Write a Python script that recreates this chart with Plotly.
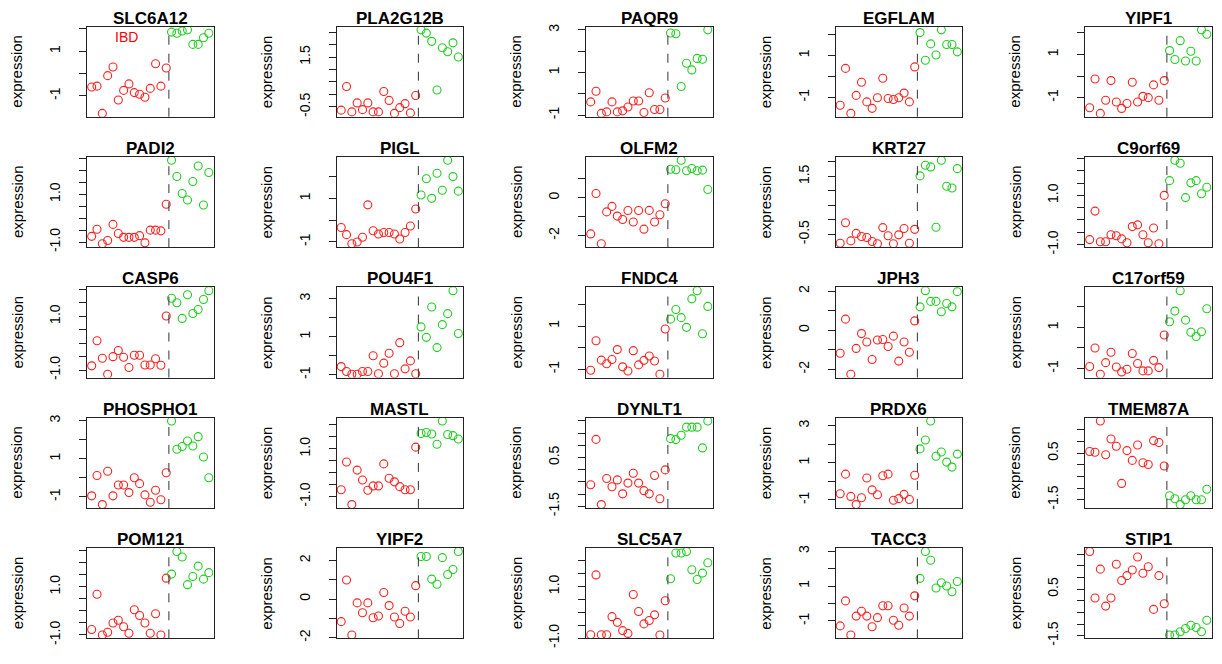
import plotly.graph_objects as go

W, H = 1222, 664

GENES = ["SLC6A12", "PLA2G12B", "PAQR9", "EGFLAM", "YIPF1",
         "PADI2", "PIGL", "OLFM2", "KRT27", "C9orf69",
         "CASP6", "POU4F1", "FNDC4", "JPH3", "C17orf59",
         "PHOSPHO1", "MASTL", "DYNLT1", "PRDX6", "TMEM87A",
         "POM121", "YIPF2", "SLC5A7", "TACC3", "STIP1"]

IBD_VALUES = [
    [-0.61, -0.57, -1.79, -0.10, 0.29, -1.19, -0.76, -0.47, -0.86, -0.93, -1.07, -0.67, 0.43, -0.57, 0.24],
    [-0.63, 0.32, -0.70, -0.34, -0.61, -0.34, -0.70, -0.70, 0.12, -0.24, -0.76, -0.53, -0.37, -0.74, -0.04],
    [-0.38, 0.12, -0.92, -0.85, -0.38, -0.85, -0.80, -0.62, -0.34, -0.34, -0.88, 0.05, -0.74, -0.74, -0.20],
    [-1.38, 0.38, -1.77, -0.91, -0.28, -1.22, -1.53, -1.02, -0.09, -1.06, -1.11, -1.02, -0.80, -1.22, 0.45],
    [-1.47, -0.14, -1.73, -1.12, -0.21, -1.20, -1.50, -1.27, -0.29, -1.20, -0.94, -1.00, -0.41, -1.12, -0.21],
    [-0.76, -0.46, -1.07, -0.93, -0.26, -0.64, -0.80, -0.80, -0.80, -0.73, -1.03, -0.50, -0.50, -0.53, 0.58],
    [-0.34, -0.67, -1.09, -1.01, -0.79, 0.70, -0.49, -0.64, -0.57, -0.57, -0.64, -0.87, -0.57, -0.27, 0.51],
    [-1.91, 0.22, -2.43, -0.75, -0.46, -0.97, -1.15, -0.68, -1.28, -0.68, -1.66, -0.67, -1.28, -0.90, -0.32],
    [-0.81, -0.10, -0.73, -0.47, -0.58, -0.61, -0.75, -0.83, -0.27, -0.55, -0.83, -0.52, -0.30, -0.81, -0.33],
    [-0.80, 0.36, -0.89, -0.89, -0.60, -0.64, -0.77, -0.93, -0.27, -0.20, -0.60, -0.93, -0.33, -0.97, 1.00],
    [-0.84, 0.09, -0.56, -1.15, -0.50, -0.27, -0.52, -0.90, -0.45, -0.45, -0.81, -0.81, -0.58, -0.82, 1.01],
    [-0.57, -0.83, -0.97, -0.97, -0.83, -0.83, 0.00, -0.95, -0.39, 0.13, -0.95, 0.69, -0.69, -0.27, -0.95],
    [-1.05, 0.32, -0.58, -0.75, -0.55, -0.09, -0.89, -1.08, -0.14, -0.80, -0.59, -0.39, -0.62, -1.23, 0.86],
    [-1.18, 0.57, -2.25, -0.93, -0.17, -0.60, -1.50, -0.50, -0.47, -0.83, -0.30, -1.58, -0.60, -1.13, 0.48],
    [-0.90, 0.00, -1.27, -0.71, -0.21, -0.92, -1.16, -1.03, -0.27, -0.75, -1.11, -1.11, -0.60, -0.95, 0.63],
    [-0.95, 0.12, -1.41, 0.34, -0.95, -0.38, -0.38, -0.78, 0.00, -0.31, -0.90, -1.29, -0.66, -1.16, 0.26],
    [-0.71, 0.45, -1.33, 0.11, -0.30, -0.73, -0.55, -0.55, 0.37, -0.23, -0.38, -0.58, -0.71, -0.71, 1.07],
    [-0.62, 1.24, -1.43, -0.36, -0.70, -0.42, -0.99, -0.55, -0.15, -0.55, -0.86, -0.99, -0.24, -1.19, -0.01],
    [-0.67, 0.39, -0.81, -1.25, -0.88, 0.18, -0.46, -0.72, 0.30, 0.39, -1.02, -0.93, -0.70, -0.98, 0.33],
    [0.57, 0.54, 1.88, 0.43, 1.11, 0.80, -0.80, 0.61, 0.19, 0.85, 0.09, 0.01, 1.04, 0.96, -0.05],
    [-0.77, 0.69, -1.00, -0.89, -0.50, -0.39, -0.66, -0.93, 0.05, -0.19, -0.50, -0.93, -0.12, -1.00, 1.36],
    [-1.17, 0.98, -1.86, -0.20, -0.71, -0.20, -0.97, -0.88, 0.34, -0.34, -0.93, -1.27, -0.63, -0.93, 0.69],
    [-0.87, 1.45, -0.87, -0.87, -0.17, -0.39, -0.71, -0.82, 0.69, 0.03, -0.45, -0.32, -0.10, -0.88, 0.45],
    [-1.28, 0.15, -1.80, -0.72, -0.44, -0.72, -1.33, -0.81, -0.13, -0.13, -0.96, -1.24, -0.26, -0.72, 0.44],
    [2.12, 0.12, 1.36, -0.23, 0.12, 1.57, 0.87, 1.08, 1.32, 1.88, 1.18, 1.46, -0.37, 1.08, -0.13],
]

CONTROL_VALUES = [
    [1.85, 1.80, 1.90, 1.95, 1.30, 1.30, 1.60, 1.80],
    [2.59, 2.46, 2.13, 0.18, 1.87, 1.71, 2.07, 1.50],
    [2.85, 2.82, 0.34, 1.43, 1.12, 1.66, 1.62, 3.00],
    [2.09, 0.77, 1.55, 1.02, 2.22, 1.52, 1.52, 1.17],
    [1.18, 0.77, 1.64, 0.70, 1.15, 0.70, 2.14, 1.94],
    [2.42, 1.74, 1.03, 0.76, 1.53, 2.18, 0.55, 1.91],
    [1.15, 1.90, 1.00, 2.15, 1.37, 2.75, 2.00, 1.33],
    [1.50, 1.47, 1.97, 1.42, 1.54, 1.42, 1.45, 0.43],
    [1.52, 1.89, 1.83, -0.26, 2.06, 1.16, 1.10, 1.77],
    [1.60, 2.43, 2.31, 0.91, 1.51, 1.60, 1.07, 1.33],
    [1.67, 1.50, 0.92, 1.80, 1.10, 1.25, 1.62, 1.95],
    [1.52, 0.97, 2.57, 0.43, 1.64, 2.22, 3.43, 1.17],
    [1.32, 1.77, 1.39, 0.94, 2.26, 2.64, 0.64, 1.91],
    [1.20, 2.03, 1.48, 1.48, 0.95, 1.37, 1.20, 1.98],
    [1.27, 1.79, 2.78, 1.35, 0.76, 0.56, 0.79, 1.90],
    [2.98, 1.50, 1.64, 1.93, 1.67, 2.16, 1.09, 0.00],
    [1.64, 1.68, 1.62, 1.19, 2.16, 1.60, 1.55, 1.41],
    [1.27, 1.23, 1.41, 1.74, 1.74, 1.74, 0.89, 1.99],
    [1.75, 2.23, 3.25, 1.35, 1.58, 1.04, 0.77, 1.47],
    [-1.33, -1.46, -1.71, -1.50, -1.33, -1.50, -1.50, -1.05],
    [1.53, 2.47, 2.24, 1.09, 1.43, 1.86, 1.32, 1.59],
    [2.20, 2.20, 1.03, 0.76, 2.14, 1.27, 1.53, 2.46],
    [1.30, 2.30, 2.30, 2.36, 1.65, 1.27, 1.52, 1.92],
    [1.44, 2.98, 2.48, 0.89, 1.19, 1.00, 0.67, 1.26],
    [-1.47, -1.47, -1.33, -1.19, -1.05, -1.15, -1.33, -0.84],
]

T1 = [-1, 0, 1, 2]
T1L = ["-1", "", "1", ""]
T3 = [-1, 0, 1, 2, 3]
T3L = ["-1", "", "1", "", "3"]
TICK_VALUES = [
    T1, [-0.5, 0, 0.5, 1, 1.5, 2, 2.5], T3, T1, T1,
    [-1, -0.5, 0, 0.5, 1, 1.5, 2, 2.5], T1, [-2, -1, 0, 1], [-0.5, 0, 0.5, 1, 1.5, 2], [-1, -0.5, 0, 0.5, 1, 1.5, 2, 2.5],
    [-1, -0.5, 0, 0.5, 1, 1.5, 2], T3, T1, [-2, -1, 0, 1, 2], T1,
    T3, [-1, -0.5, 0, 0.5, 1, 1.5, 2], [-1.5, -1, -0.5, 0, 0.5, 1, 1.5, 2], T3, [-1.5, -1, -0.5, 0, 0.5, 1, 1.5],
    [-1, -0.5, 0, 0.5, 1, 1.5, 2, 2.5], [-2, -1, 0, 1, 2], [-1, -0.5, 0, 0.5, 1, 1.5, 2], T3, [-1.5, -1, -0.5, 0, 0.5, 1, 1.5, 2],
]
TICK_TEXT = [
    T1L, ["-0.5", "", "", "", "1.5", "", ""], T3L, T1L, T1L,
    ["-1.0", "", "", "", "1.0", "", "", ""], T1L, ["-2", "", "0", ""], ["-0.5", "", "", "", "1.5", ""], ["-1.0", "", "", "", "1.0", "", "", ""],
    ["-1.0", "", "", "", "1.0", "", ""], T3L, T1L, ["-2", "", "0", "", "2"], T1L,
    T3L, ["-1.0", "", "", "", "1.0", "", ""], ["-1.5", "", "", "", "0.5", "", "", ""], T3L, ["-1.5", "", "", "", "0.5", "", ""],
    ["-1.0", "", "", "", "1.0", "", "", ""], ["-2", "", "0", "", "2"], ["-1.0", "", "", "", "1.0", "", ""], T3L, ["-1.5", "", "", "", "0.5", "", "", ""],
]

RED = "#FF2020"
GREEN = "#22CC22"
FONT = "Liberation Sans, Arial, Helvetica, sans-serif"

COL_LEFT = [87, 336.5, 586, 835.5, 1085]
BOX_W = 126.5
ROW_TOP = [24, 157, 290, 423, 556]
BOX_H = 92

fig = go.Figure()
layout = dict(width=W, height=H, margin=dict(l=0, r=0, t=0, b=0),
              paper_bgcolor="white", plot_bgcolor="white", showlegend=False,
              font=dict(family=FONT, color="black"))
annotations = []
shapes = []

for i, gene in enumerate(GENES):
    r, c = divmod(i, 5)
    k = "" if i == 0 else str(i + 1)
    ibd = IBD_VALUES[i]
    ctl = CONTROL_VALUES[i]
    xs_ibd = list(range(1, len(ibd) + 1))
    xs_ctl = list(range(len(ibd) + 1, len(ibd) + len(ctl) + 1))
    n = len(ibd) + len(ctl)
    allv = ibd + ctl
    lo, hi = min(allv), max(allv)
    pad = 0.04 * (hi - lo)
    xpad = 0.04 * (n - 1)

    x0 = COL_LEFT[c] / W
    x1 = (COL_LEFT[c] + BOX_W) / W
    y1 = 1 - ROW_TOP[r] / H
    y0 = 1 - (ROW_TOP[r] + BOX_H) / H

    fig.add_trace(go.Scatter(x=xs_ibd, y=ibd, mode="markers", xaxis="x" + k, yaxis="y" + k,
                             marker=dict(symbol="circle-open", size=8, color=RED, line=dict(width=1.1, color=RED)),
                             cliponaxis=True, hoverinfo="skip"))
    fig.add_trace(go.Scatter(x=xs_ctl, y=ctl, mode="markers", xaxis="x" + k, yaxis="y" + k,
                             marker=dict(symbol="circle-open", size=8, color=GREEN, line=dict(width=1.1, color=GREEN)),
                             cliponaxis=True, hoverinfo="skip"))

    layout["xaxis" + k] = dict(domain=[x0, x1], anchor="y" + k, range=[1 - xpad, n + xpad],
                               showgrid=False, zeroline=False, showticklabels=False, ticks="",
                               showline=True, mirror=True, linecolor="#222", linewidth=1)
    layout["yaxis" + k] = dict(domain=[y0, y1], anchor="x" + k, range=[lo - pad, hi + pad],
                               showgrid=False, zeroline=False, tickmode="array",
                               tickvals=TICK_VALUES[i], ticktext=TICK_TEXT[i],
                               ticks="outside", ticklen=7, tickwidth=1, tickcolor="#222",
                               tickangle=-90, ticklabelstandoff=13,
                               tickfont=dict(size=14, family=FONT, color="black"),
                               showline=True, mirror=True, linecolor="#222", linewidth=1)

    shapes.append(dict(type="line", xref="x" + k, yref="y" + k + " domain",
                       x0=len(ibd) + 0.5, x1=len(ibd) + 0.5, y0=0, y1=1,
                       line=dict(color="#333", width=1, dash="dash")))

    annotations.append(dict(text="<b>" + gene + "</b>", xref="paper", yref="paper",
                            x=(COL_LEFT[c] + BOX_W / 2) / W, y=y1, xanchor="center", yanchor="bottom",
                            yshift=-3, showarrow=False, font=dict(size=17, family=FONT, color="black")))
    annotations.append(dict(text="expression", xref="paper", yref="paper",
                            x=(COL_LEFT[c] - 70) / W, y=(y0 + y1) / 2, xanchor="center", yanchor="middle",
                            textangle=-90, showarrow=False, font=dict(size=15, family=FONT, color="black")))

annotations.append(dict(text="IBD", xref="x domain", yref="y domain", x=0.31, y=1,
                        xanchor="center", yanchor="top", showarrow=False,
                        font=dict(size=14, family=FONT, color="red")))

layout["annotations"] = annotations
layout["shapes"] = shapes
fig.update_layout(**layout)
fig.write_html("out.html")
